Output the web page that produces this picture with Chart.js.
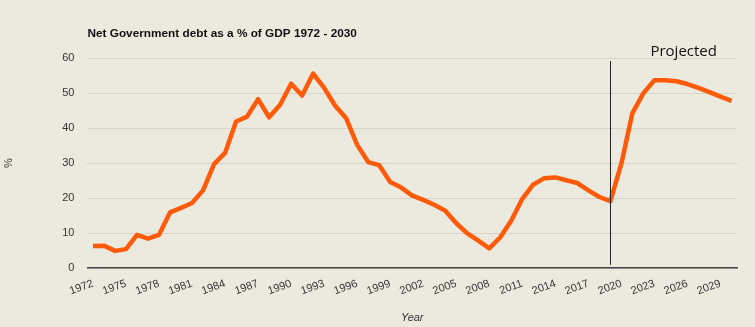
<!DOCTYPE html>
<html>
<head>
<meta charset="utf-8">
<script src="https://cdn.jsdelivr.net/npm/chart.js@4/dist/chart.umd.min.js"></script>
<style>
  html, body { margin: 0; padding: 0; background: #eceade; }
  canvas { display: block; }
</style>
</head>
<body>
<canvas id="c" width="755" height="327"></canvas>
<script>
const years = [];
for (let y = 1972; y <= 2030; y++) years.push(String(y));

const debtPct = [
  6.3, 6.4, 4.9, 5.4, 9.5, 8.4, 9.5, 15.9, 17.2, 18.6,
  22.2, 29.7, 32.9, 41.9, 43.3, 48.3, 43.1, 46.7, 52.7, 49.3,
  55.6, 51.5, 46.4, 42.8, 35.2, 30.3, 29.4, 24.6, 23.0, 20.7,
  19.5, 18.1, 16.4, 12.8, 9.9, 7.8, 5.6, 8.8, 13.6, 19.8,
  23.9, 25.7, 25.9, 25.1, 24.3, 22.2, 20.3, 19.1, 29.9, 44.3,
  50.0, 53.7, 53.7, 53.4, 52.6, 51.5, 50.3, 49.0, 47.8
];

const tickEvery = 3;
const projectionStart = '2019';
const projectedLabel = 'Projected';
const titleText = 'Net Government debt as a % of GDP 1972 - 2030';

const projectionPlugin = {
  id: 'projection',
  afterDatasetsDraw(chart) {
    const { ctx, scales: { x, y } } = chart;
    const px = Math.round(x.getPixelForValue(years.indexOf(projectionStart))) + 0.5;
    ctx.save();
    ctx.strokeStyle = '#222';
    ctx.lineWidth = 1;
    ctx.beginPath();
    ctx.moveTo(px, y.getPixelForValue(59.2));
    ctx.lineTo(px, y.getPixelForValue(0.9));
    ctx.stroke();
    ctx.fillStyle = '#111';
    ctx.font = '15px "Open Sans", "Noto Sans", sans-serif';
    ctx.textAlign = 'left';
    ctx.textBaseline = 'alphabetic';
    ctx.fillText(projectedLabel, x.getPixelForValue(years.indexOf('2023')) - 4, y.getPixelForValue(60) - 2);
    ctx.restore();
  }
};

new Chart(document.getElementById('c'), {
  type: 'line',
  data: {
    labels: years,
    datasets: [{
      data: debtPct,
      borderColor: '#ff5a0a',
      borderWidth: 4.5,
      borderJoinStyle: 'round',
      borderCapStyle: 'butt',
      pointRadius: 0,
      tension: 0,
      fill: false
    }]
  },
  options: {
    responsive: false,
    animation: false,
    devicePixelRatio: 1,
    layout: { padding: { left: 2, right: 18, top: 0, bottom: 2 } },
    plugins: {
      legend: { display: false },
      tooltip: { enabled: false },
      title: {
        display: true,
        text: titleText,
        align: 'start',
        fullSize: false,
        color: '#111',
        font: { family: '"Liberation Sans", Arial, sans-serif', size: 11.8, weight: 'bold' },
        padding: { top: 27, bottom: 17 }
      }
    },
    scales: {
      x: {
        offset: true,
        grid: { display: false, drawTicks: false },
        border: { display: true, color: '#444', width: 1.5 },
        ticks: {
          autoSkip: false,
          minRotation: 20,
          maxRotation: 20,
          padding: 9,
          color: '#333',
          font: { family: '"Liberation Sans", Arial, sans-serif', size: 11 },
          callback(v, i) { return (i % tickEvery === 0) ? years[i] : ''; }
        },
        title: {
          display: true,
          text: 'Year',
          color: '#333',
          font: { family: '"Liberation Sans", Arial, sans-serif', size: 11, style: 'italic' },
          padding: { top: 5, bottom: 0 }
        }
      },
      y: {
        min: 0,
        max: 60,
        grid: { color: '#d6d4c8', drawTicks: false, lineWidth: 1 },
        border: { display: false },
        ticks: {
          stepSize: 10,
          padding: 13,
          color: '#333',
          font: { family: '"Liberation Sans", Arial, sans-serif', size: 11 }
        },
        title: {
          display: true,
          text: '%',
          color: '#333',
          font: { family: '"Liberation Sans", Arial, sans-serif', size: 11 },
          padding: { top: 0, bottom: 34 }
        }
      }
    }
  },
  plugins: [projectionPlugin]
});
</script>
</body>
</html>
